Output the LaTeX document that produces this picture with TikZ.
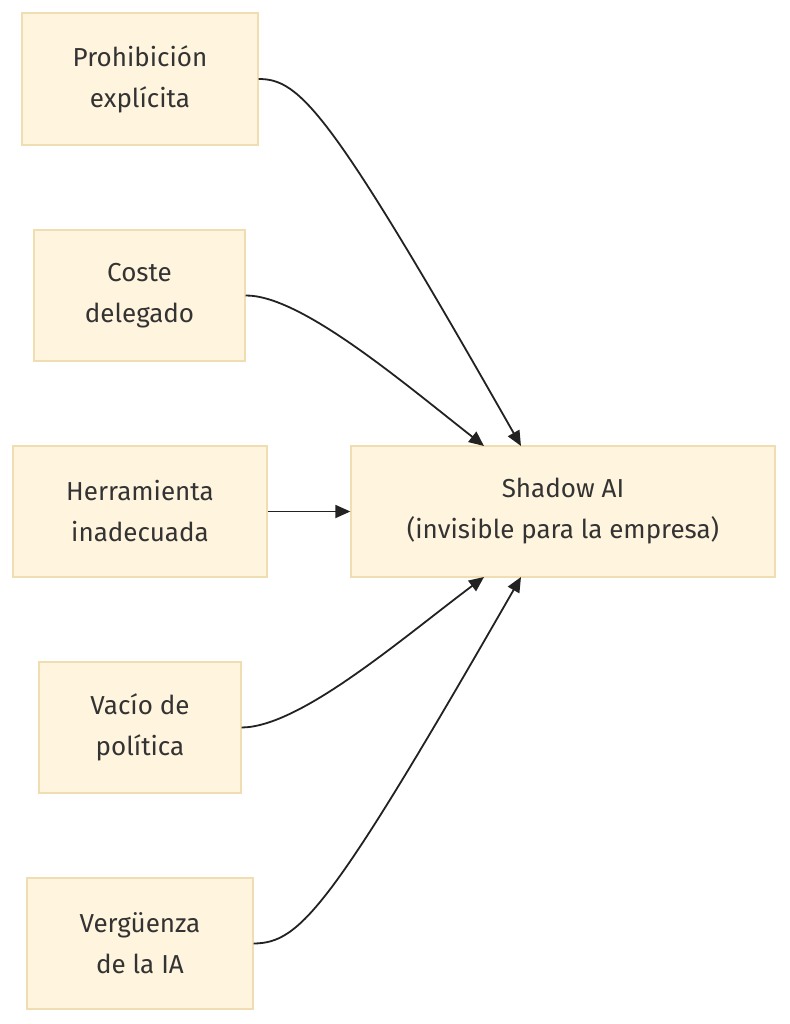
\documentclass[tikz,border=0pt]{standalone}
\usepackage{fontspec}
\setmainfont{Fira Sans}
\usetikzlibrary{arrows.meta}
\definecolor{boxfill}{HTML}{FFF4DD}
\definecolor{boxline}{HTML}{F0DDB2}
\definecolor{ink}{HTML}{333333}
\definecolor{wire}{HTML}{222222}
\begin{document}
\begin{tikzpicture}[x=1pt,y=-1pt,
  box/.style={draw=boxline,fill=boxfill,line width=1.3pt,inner sep=0pt,
    text=ink,align=center,font=\fontsize{26}{41}\selectfont},
  link/.style={draw=wire,line width=1.8pt,-{Triangle[length=15pt,width=13pt]}}]
\useasboundingbox (0,0) rectangle (789,1024);
\node[box,minimum width=236pt,minimum height=132pt] (a) at (140,79) {Prohibición\\explícita};
\node[box,minimum width=211pt,minimum height=131pt] (b) at (139.5,295.5) {Coste\\delegado};
\node[box,minimum width=254pt,minimum height=131pt] (c) at (140,511.5) {Herramienta\\inadecuada};
\node[box,minimum width=202pt,minimum height=131pt] (d) at (140,727.5) {Vacío de\\política};
\node[box,minimum width=226pt,minimum height=131pt] (e) at (140,943.5) {Vergüenza\\de la IA};
\node[box,minimum width=424pt,minimum height=131pt] (t) at (563,511.5) {Shadow AI\\(invisible para la empresa)};
\coordinate (t1) at (521,446);
\coordinate (t2) at (484,446);
\coordinate (t4) at (484,577);
\coordinate (t5) at (521,577);
\draw[link] (a.east) .. controls (300,79) and (330,110) .. (t1);
\draw[link] (b.east) .. controls (300,295) and (400,380) .. (t2);
\draw[link] (c.east) -- (t.west);
\draw[link] (d.east) .. controls (300,727) and (400,640) .. (t4);
\draw[link] (e.east) .. controls (300,943) and (330,910) .. (t5);
\end{tikzpicture}
\end{document}
